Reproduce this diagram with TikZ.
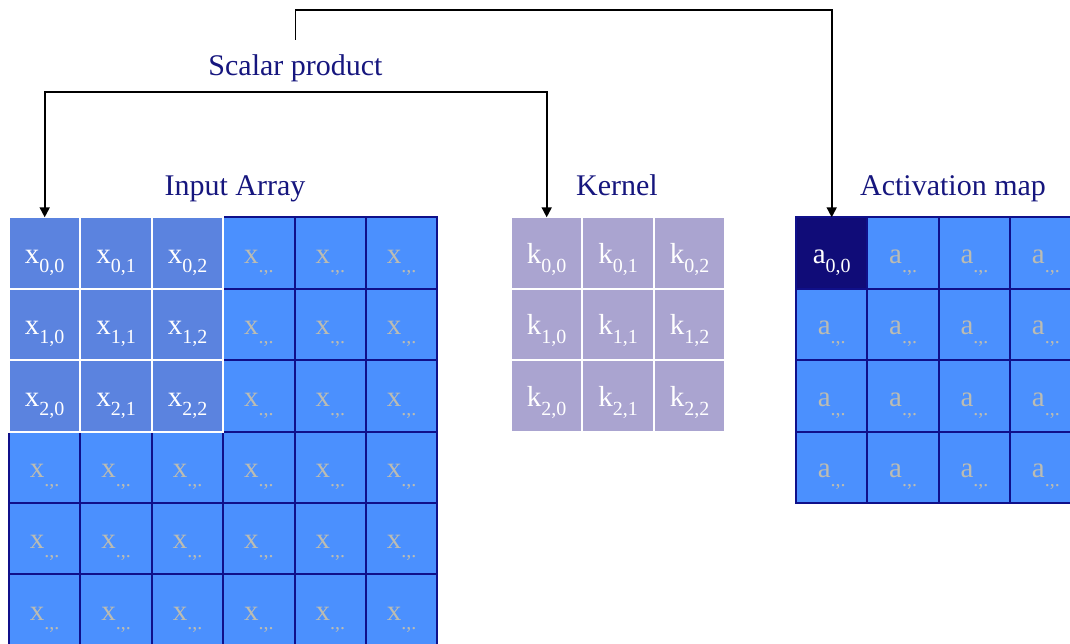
\documentclass[tikz,border=0pt]{standalone}
\usepackage{fontspec}
\setmainfont{Liberation Serif}
\usetikzlibrary{arrows.meta}

\definecolor{cellblue}{HTML}{4B90FE}
\definecolor{hotblue}{HTML}{5B83DF}
\definecolor{gridnavy}{HTML}{10108A}
\definecolor{kernfill}{HTML}{AAA4D0}
\definecolor{actnavy}{HTML}{100C78}
\definecolor{dimgray}{HTML}{BCBCB2}
\definecolor{labelnavy}{HTML}{16167E}

% symbol with a lowered, smaller index
\newcommand\cellsym[2]{{\fontsize{29}{30}\selectfont #1}\raisebox{-9pt}{\fontsize{20}{20}\selectfont #2}}

\tikzset{
  cell/.style={minimum size=71.4pt, inner sep=0pt, outer sep=0pt, line width=2pt},
  plain/.style={cell, fill=cellblue, draw=gridnavy},
  hot/.style={cell, fill=hotblue, draw=white},
  kern/.style={cell, fill=kernfill, draw=white},
  act/.style={cell, fill=actnavy, draw=gridnavy},
  ent/.style={anchor=base, inner sep=0pt, text=white},
  dim/.style={anchor=base, inner sep=0pt, text=dimgray},
  lbl/.style={anchor=base, inner sep=0pt, text=labelnavy, font=\fontsize{30}{36}\selectfont},
  arr/.style={draw=black, line width=1.8pt, -{Triangle[length=10pt,width=10pt]}}
}

\begin{document}
\begin{tikzpicture}[x=1pt, y=-1pt]
\clip (0,0) rectangle (1070,644);
\fill[white] (0,0) rectangle (1070,644);

% input array: 6x6 cells, the upper-left 3x3 window highlighted
\foreach \r in {0,...,5}{
  \foreach \c in {0,...,5}{
    \node[plain] (x-\r-\c) at (44.7+71.4*\c, 253+71.4*\r) {};
    \pgfmathtruncatemacro\inwin{and(\r<3,\c<3)}
    \ifnum\inwin=0
      \node[dim] (xt-\r-\c) at (44.7+71.4*\c, 263.3+71.4*\r) {\cellsym{x}{.,.}};
    \fi
  }
}
\foreach \r in {0,1,2}{
  \foreach \c in {0,1,2}{
    \node[hot] (x-\r-\c) at (44.7+71.4*\c, 253+71.4*\r) {};
    \node[ent] (xt-\r-\c) at (44.7+71.4*\c, 263.3+71.4*\r) {\cellsym{x}{\r,\c}};
  }
}

% kernel: 3x3
\foreach \r in {0,1,2}{
  \foreach \c in {0,1,2}{
    \node[kern] (k-\r-\c) at (546.7+71.4*\c, 253+71.4*\r) {};
    \node[ent] (kt-\r-\c) at (546.7+71.4*\c, 263.3+71.4*\r) {\cellsym{k}{\r,\c}};
  }
}

% activation map: 4x4, first entry filled
\foreach \r in {0,...,3}{
  \foreach \c in {0,...,3}{
    \node[plain] (a-\r-\c) at (831.7+71.4*\c, 253+71.4*\r) {};
    \pgfmathtruncatemacro\first{and(\r==0,\c==0)}
    \ifnum\first=0
      \node[dim] (at-\r-\c) at (831.7+71.4*\c, 263.3+71.4*\r) {\cellsym{a}{.,.}};
    \fi
  }
}
\node[act] (a-0-0) at (831.7, 253) {};
\node[ent] (at-0-0) at (831.7, 263.3) {\cellsym{a}{0,0}};

% titles
\node[lbl] (sp) at (295.5,76) {Scalar product};
\node[lbl] (tin) at (235,196) {Input Array};
\node[lbl] (tk) at (617,196) {Kernel};
\node[lbl] (ta) at (953,196) {Activation map};

% connectors
\coordinate (stub) at (295.5,40);
\coordinate (turn) at (295.5,10);
\coordinate (split) at (295.5,92);
\draw[arr] (stub) -- (turn) -| (a-0-0.north);
\draw[arr] (split) -| (x-0-0.north);
\draw[arr] (split) -| (k-0-0.north);
\end{tikzpicture}
\end{document}
